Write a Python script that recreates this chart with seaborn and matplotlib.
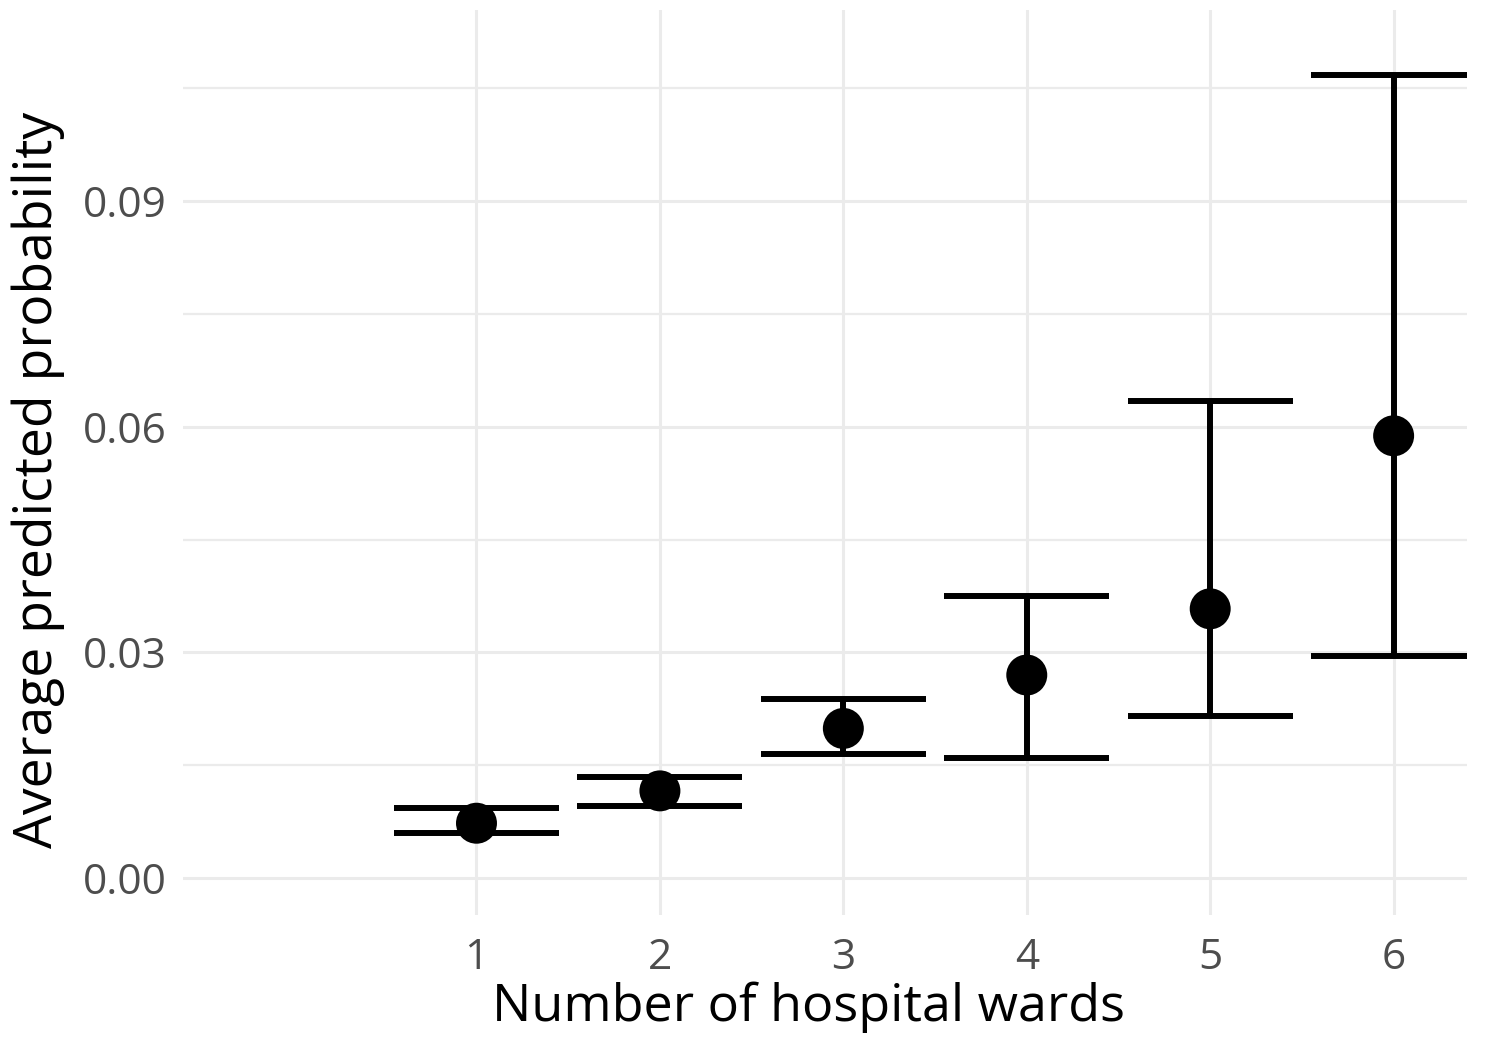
import numpy as np
import pandas as pd
import seaborn as sns
from matplotlib import pyplot as plt

# data
wards = [1, 2, 3, 4, 5, 6]
prob = [0.0073, 0.0116, 0.0199, 0.0270, 0.0358, 0.0588]
lower = [0.0060, 0.0096, 0.0165, 0.0160, 0.0215, 0.0295]
upper = [0.0093, 0.0134, 0.0238, 0.0375, 0.0634, 0.1068]

y_ticks = [0.00, 0.03, 0.06, 0.09]
y_minor = [0.015, 0.045, 0.075, 0.105]

df = pd.DataFrame({"wards": wards, "prob": prob, "lower": lower, "upper": upper})

sns.set_theme(style="white")
plt.rcParams['font.family'] = ['Open Sans', 'DejaVu Sans']

fig = plt.figure(figsize=(14.85, 10.43), dpi=100)
ax = fig.add_axes([183 / 1485, 1 - 915 / 1043, (1467 - 183) / 1485, (915 - 10) / 1043])

grid = "#EBEBEB"
for t in y_ticks:
    ax.axhline(t, color=grid, lw=2.2, zorder=0)
for t in y_minor:
    ax.axhline(t, color=grid, lw=1.6, zorder=0)
for w in wards:
    ax.axvline(w, color=grid, lw=2.2, zorder=0)

# error bars: vertical line + wide caps
ax.vlines(df["wards"], df["lower"], df["upper"], color="black", lw=4.3, zorder=2)
cap = 0.45
ax.hlines(df["lower"], df["wards"] - cap, df["wards"] + cap, color="black", lw=4.3, zorder=2)
ax.hlines(df["upper"], df["wards"] - cap, df["wards"] + cap, color="black", lw=4.3, zorder=2)

sns.scatterplot(data=df, x="wards", y="prob", s=870, color="black",
                edgecolor="none", zorder=3, ax=ax, legend=False)

ax.set_xlim(-0.6, 6.4)
ax.set_ylim(-0.0049, 0.1154)
ax.set_xticks(wards)
ax.set_yticks(y_ticks)
ax.set_yticklabels([f"{t:.2f}" for t in y_ticks])
ax.tick_params(axis="both", length=0, labelsize=30.5, labelcolor="#4D4D4D")
ax.tick_params(axis="x", pad=16)
ax.tick_params(axis="y", pad=12)
for s in ax.spines.values():
    s.set_visible(False)

ax.set_xlabel("Number of hospital wards", fontsize=37.5, color="black")
ax.set_ylabel("Average predicted probability", fontsize=38.5, color="black")
ax.xaxis.set_label_coords(0.487, -0.073)
ax.yaxis.set_label_coords(-0.092, 0.481)

fig.savefig("out.png", dpi=100, facecolor="white")
